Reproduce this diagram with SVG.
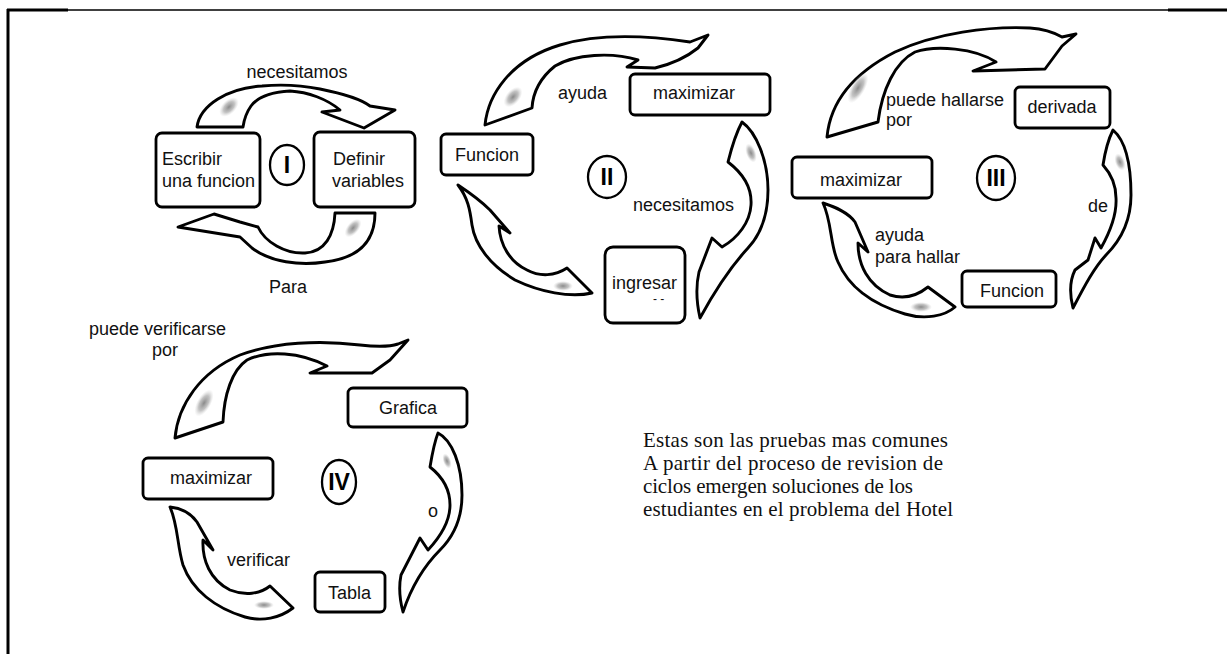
<svg xmlns="http://www.w3.org/2000/svg" width="1227" height="654" viewBox="0 0 1227 654">
<defs>
<radialGradient id="sm">
<stop offset="0" stop-color="#8a8a8a" stop-opacity="1"/>
<stop offset="0.55" stop-color="#a8a8a8" stop-opacity="0.7"/>
<stop offset="1" stop-color="#cfcfcf" stop-opacity="0"/>
</radialGradient>
<style>
.box{fill:#fff;stroke:#000;stroke-width:2.8}
.arr{fill:#fff;stroke:#000;stroke-width:2.9;stroke-linejoin:round}
.ring{fill:#fff;stroke:#000;stroke-width:2.3}
.t{font-family:"Liberation Sans",Arial,sans-serif;font-size:18px;fill:#111}
.c{text-anchor:middle}
.num{font-family:"Liberation Sans",Arial,sans-serif;font-size:23px;font-weight:bold;fill:#000;text-anchor:middle}
.ser{font-family:"Liberation Serif","Times New Roman",serif;font-size:21px;fill:#111}
.sm{fill:url(#sm)}
.frame{stroke:#000;fill:none}
</style>
</defs>
<rect width="1227" height="654" fill="#fff"/>
<g id="frame">
<line class="frame" x1="7" y1="10" x2="1227" y2="10" stroke-width="1.5"/>
<line class="frame" x1="7" y1="10" x2="68" y2="10" stroke-width="3"/>
<line class="frame" x1="1168" y1="10" x2="1227" y2="10" stroke-width="3"/>
<line class="frame" x1="8" y1="9" x2="8" y2="654" stroke-width="3"/>
</g>
<g id="connectors">
<!-- cycle I -->
<path class="arr" d="M197,127 C200,105 228,88 262,86 C285,84 300,85 320,89 C345,94 362,100 370,106 L395,110 L364,128 L322,112 L340,110 C327,99 308,92 290,91 C270,92 257,98 251,106 C246,113 244,120 243,127 Z"/>
<ellipse class="sm" cx="229" cy="107" rx="12" ry="7" transform="rotate(-45 229 107)"/>
<path class="arr" d="M375,213 C375,240 360,258 325,262 C300,266 270,262 252,248 L240,237 L178,227 L214,214 L240,222 L258,227 C265,242 285,254 305,253 C325,252 334,235 335,213 Z"/>
<ellipse class="sm" cx="353" cy="228" rx="11" ry="6" transform="rotate(-50 353 228)"/>
<!-- cycle II -->
<path class="arr" d="M485,125 C488,95 510,60 560,45 C600,33 650,36 690,42 L708,35 L698,48 C688,56 672,64 655,68 L627,67 L638,60 C612,52 575,54 555,66 C540,78 533,92 532,108 Z"/>
<ellipse class="sm" cx="513" cy="97" rx="12" ry="7" transform="rotate(-50 513 97)"/>
<path class="arr" d="M742,122 C756,132 768,160 768,190 C768,215 760,235 748,248 C735,262 718,285 700,318 C696,300 696,285 699,272 L712,238 L722,247 C738,238 750,222 751,205 C752,190 745,175 728,162 C731,150 735,135 742,122 Z"/>
<ellipse class="sm" cx="751" cy="153" rx="10" ry="5" transform="rotate(70 751 153)"/>
<path class="arr" d="M458,185 C470,193 481,201 490,210 L510,233 L499,226 C500,245 510,262 527,270 C540,277 555,276 567,268 L592,293 C570,298 540,292 515,280 C490,265 475,245 472,225 C470,210 468,198 458,185 Z"/>
<ellipse class="sm" cx="563" cy="286" rx="10" ry="5"/>
<!-- cycle III -->
<path class="arr" d="M827,137 C830,105 850,75 895,52 C935,33 990,26 1030,28 C1045,29 1055,33 1062,37 L1076,34 L1062,46 L1045,69 L973,71 L996,62 C975,48 935,45 915,52 C895,62 882,90 878,122 Z"/>
<ellipse class="sm" cx="858" cy="88" rx="17" ry="7" transform="rotate(-60 858 88)"/>
<path class="arr" d="M1113,130 C1127,142 1131,170 1131,195 C1131,222 1119,242 1106,255 C1094,268 1085,285 1073,308 C1069,292 1070,280 1075,270 L1088,260 L1095,238 L1101,248 C1110,232 1117,215 1116,198 C1116,185 1112,175 1103,165 C1105,152 1108,140 1113,130 Z"/>
<ellipse class="sm" cx="1120" cy="162" rx="9" ry="5" transform="rotate(70 1120 162)"/>
<path class="arr" d="M823,203 C835,207 848,212 855,222 L868,252 L858,243 C858,265 868,285 890,295 C905,300 918,295 928,287 L955,307 C945,316 925,320 905,314 C875,305 850,290 838,262 C830,245 832,222 823,203 Z"/>
<ellipse class="sm" cx="921" cy="307" rx="11" ry="5"/>
<!-- cycle IV -->
<path class="arr" d="M175,438 C178,405 200,372 240,355 C275,342 320,340 360,345 C378,347 392,346 398,344 L408,340 L390,360 L372,373 L310,373 L327,366 C300,352 268,350 247,360 C232,370 224,395 223,422 Z"/>
<ellipse class="sm" cx="204" cy="403" rx="15" ry="7" transform="rotate(-60 204 403)"/>
<path class="arr" d="M438,433 C452,440 462,465 462,495 C462,520 452,538 440,550 C425,565 412,585 403,612 C399,597 399,585 401,575 L420,538 L428,550 C442,535 450,520 450,505 C450,490 444,478 430,467 C432,455 434,443 438,433 Z"/>
<ellipse class="sm" cx="447" cy="461" rx="8" ry="4" transform="rotate(70 447 461)"/>
<path class="arr" d="M170,507 C180,508 190,512 197,522 L213,550 L203,540 C202,560 210,580 230,590 C245,596 260,594 270,586 L293,608 C280,618 262,622 245,617 C215,608 192,590 183,565 C177,545 178,525 170,507 Z"/>
<ellipse class="sm" cx="264" cy="605" rx="10" ry="4"/>
</g>
<!-- cycle I nodes -->
<g id="n-escribir"><rect class="box" x="156" y="133" width="104" height="74" rx="6"/><text class="t" x="162" y="165">Escribir</text><text class="t" x="162" y="187">una funcion</text></g>
<g id="n-definir"><rect class="box" x="314" y="132" width="101" height="75" rx="6"/><text class="t" x="333" y="165">Definir</text><text class="t" x="332" y="187">variables</text></g>
<g id="n-c1"><ellipse class="ring" cx="287" cy="165" rx="17" ry="20"/><text class="num" x="287" y="173">I</text></g>
<g id="l-c1"><text class="t c" x="297" y="78">necesitamos</text><text class="t c" x="288" y="293">Para</text></g>
<!-- cycle II nodes -->
<g id="n-max2"><rect class="box" x="630" y="74" width="140" height="41" rx="5"/><text class="t" x="653" y="99">maximizar</text></g>
<g id="n-fun2"><rect class="box" x="441" y="134" width="92" height="41" rx="5"/><text class="t" x="455" y="161">Funcion</text></g>
<g id="n-ing2"><rect class="box" x="605" y="247" width="80" height="76" rx="8"/><text class="t" x="612" y="289">ingresar</text><text class="t" x="653" y="303" style="font-size:12px">- -</text></g>
<g id="n-c2"><ellipse class="ring" cx="607" cy="177" rx="19" ry="21"/><text class="num" x="607" y="185">II</text></g>
<g id="l-c2"><text class="t" x="558" y="99">ayuda</text><text class="t" x="633" y="211">necesitamos</text></g>
<!-- cycle III nodes -->
<g id="n-der3"><rect class="box" x="1015" y="87" width="95" height="41" rx="5"/><text class="t c" x="1062" y="113">derivada</text></g>
<g id="n-max3"><rect class="box" x="792" y="157" width="140" height="41" rx="5"/><text class="t" x="820" y="186">maximizar</text></g>
<g id="n-fun3"><rect class="box" x="962" y="271" width="94" height="36" rx="5"/><text class="t" x="980" y="297">Funcion</text></g>
<g id="n-c3"><ellipse class="ring" cx="996" cy="178" rx="19" ry="22"/><text class="num" x="996" y="186">III</text></g>
<g id="l-c3"><text class="t" x="886" y="106">puede hallarse</text><text class="t" x="886" y="126">por</text><text class="t" x="1088" y="212">de</text><text class="t" x="875" y="241">ayuda</text><text class="t" x="875" y="263">para hallar</text></g>
<!-- cycle IV nodes -->
<g id="n-graf4"><rect class="box" x="348" y="388" width="119" height="39" rx="5"/><text class="t c" x="408" y="414">Grafica</text></g>
<g id="n-max4"><rect class="box" x="143" y="458" width="130" height="41" rx="5"/><text class="t" x="170" y="484">maximizar</text></g>
<g id="n-tab4"><rect class="box" x="315" y="572" width="70" height="40" rx="5"/><text class="t" x="328" y="599">Tabla</text></g>
<g id="n-c4"><ellipse class="ring" cx="339" cy="482" rx="17" ry="22"/><text class="num" x="339" y="490">IV</text></g>
<g id="l-c4"><text class="t" x="89" y="335">puede verificarse</text><text class="t" x="152" y="356">por</text><text class="t" x="428" y="517">o</text><text class="t" x="227" y="566">verificar</text></g>
<!-- note -->
<g id="note">
<text class="ser" x="643" y="447" textLength="305" lengthAdjust="spacing">Estas son las pruebas mas comunes</text>
<text class="ser" x="643" y="470" textLength="300" lengthAdjust="spacing">A partir del proceso de revision de</text>
<text class="ser" x="643" y="493" textLength="270" lengthAdjust="spacing">ciclos emergen soluciones de los</text>
<text class="ser" x="643" y="516" textLength="310" lengthAdjust="spacing">estudiantes en el problema del Hotel</text>
</g>
</svg>
